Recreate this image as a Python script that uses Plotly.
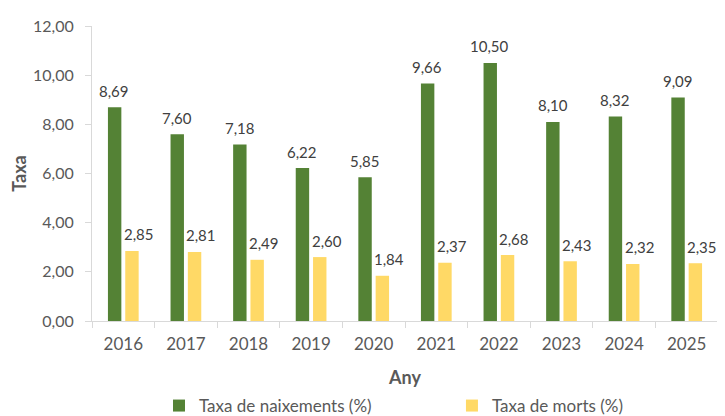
import plotly.graph_objects as go

years = ["2016", "2017", "2018", "2019", "2020", "2021", "2022", "2023", "2024", "2025"]
naixements = [8.69, 7.60, 7.18, 6.22, 5.85, 9.66, 10.50, 8.10, 8.32, 9.09]
morts = [2.85, 2.81, 2.49, 2.60, 1.84, 2.37, 2.68, 2.43, 2.32, 2.35]

FONT = "Lato"
GREEN = "#548235"
YELLOW = "#FFD966"

def fmt(v):
    return f"{v:.2f}".replace(".", ",")

fig = go.Figure()
fig.add_trace(go.Bar(
    x=years, y=naixements, name="Taxa de naixements (%)",
    marker=dict(color=GREEN, line=dict(width=0)), legend="legend",
))
fig.add_trace(go.Bar(
    x=years, y=morts, name="Taxa de morts (%)",
    marker=dict(color=YELLOW, line=dict(width=0)), legend="legend2",
))

annotations = []
for series, shift in ((naixements, -9), (morts, 15.5)):
    for i, v in enumerate(series):
        annotations.append(dict(
            x=i, y=v, text=fmt(v), showarrow=False,
            xanchor="center", yanchor="bottom", xshift=shift, yshift=5.5,
            font=dict(family=FONT, size=15, color="#404040"),
        ))

legend_common = dict(
    orientation="h", yref="container", y=0.0245, yanchor="middle",
    xanchor="left", font=dict(family=FONT, size=17, color="#595959"),
    bgcolor="rgba(0,0,0,0)",
)

# the page body adds an 8px offset, so the figure is 8px smaller than the window
fig.update_layout(
    width=717, height=408,
    margin=dict(l=84, r=7, t=18, b=95, autoexpand=False),
    paper_bgcolor="white", plot_bgcolor="white",
    barmode="group", bargap=0.447, bargroupgap=0.225,
    font=dict(family=FONT, size=15, color="#595959"),
    showlegend=True,
    legend=dict(x=0.107, **legend_common),
    legend2=dict(x=0.575, **legend_common),
    annotations=annotations,
    separators=",.",
)
fig.update_xaxes(
    type="category", categoryorder="array", categoryarray=years,
    range=[-0.5, len(years) - 0.5], automargin=False,
    showline=True, linecolor="#d9d9d9", linewidth=1,
    ticks="outside", tickson="boundaries", ticklen=6, tickcolor="#d9d9d9",
    showgrid=False, ticklabelstandoff=8,
    tickfont=dict(family=FONT, size=17, color="#595959"),
    title=dict(text="<b>Any</b>", font=dict(family=FONT, size=18, color="#595959"), standoff=25),
)
fig.update_yaxes(
    range=[0, 12], dtick=2, tickformat=".2f", automargin=False,
    showline=True, linecolor="#d9d9d9", linewidth=1,
    ticks="outside", ticklen=6, tickcolor="#d9d9d9",
    showgrid=False, zeroline=False, ticklabelstandoff=8,
    tickfont=dict(family=FONT, size=16, color="#595959"),
    title=dict(text="<b>Taxa</b>", font=dict(family=FONT, size=18, color="#595959"), standoff=4),
)

fig.write_html("out.html")
